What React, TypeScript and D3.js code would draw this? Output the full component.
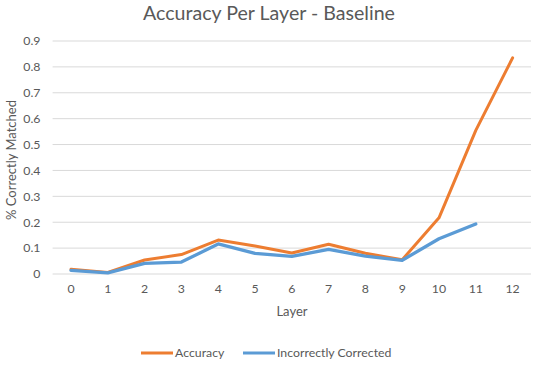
import React from 'react';
import { scaleLinear, scaleBand, line } from 'd3';

const layers = ['0', '1', '2', '3', '4', '5', '6', '7', '8', '9', '10', '11', '12'];
const accuracy = [0.018, 0.006, 0.054, 0.075, 0.131, 0.108, 0.081, 0.115, 0.08, 0.055, 0.217, 0.555, 0.835];
const incorrectlyCorrected = [0.014, 0.004, 0.041, 0.046, 0.116, 0.08, 0.068, 0.095, 0.069, 0.053, 0.136, 0.193];
const yTicks = [0, 0.1, 0.2, 0.3, 0.4, 0.5, 0.6, 0.7, 0.8, 0.9];

const font = 'Lato, "Open Sans", sans-serif';
const textColor = '#595959';

export default function App() {
  const width = 538,
    height = 366;

  const x = scaleBand().domain(layers).range([52.6, 531]);
  const y = scaleLinear().domain([0, 0.9]).range([274, 41]);

  const mkLine = line<number>()
    .x((d, i) => (x(layers[i]) as number) + x.bandwidth() / 2)
    .y((d) => y(d));

  const series = [
    { name: 'Accuracy', values: accuracy, color: '#ED7D31', legendX: 141, w: 3 },
    { name: 'Incorrectly Corrected', values: incorrectlyCorrected, color: '#5B9BD5', legendX: 243, w: 3.3 },
  ];

  return (
    <svg width={width} height={height} style={{ position: 'absolute', left: 0, top: 0, background: '#fff' }}>
      <text x={269} y={20} textAnchor="middle" fontFamily={font} fontSize={19.6} fill={textColor}>
        Accuracy Per Layer - Baseline
      </text>

      {/* grid + y ticks */}
      {yTicks.map((t) => (
        <g key={t}>
          <line x1={52.6} x2={531} y1={y(t)} y2={y(t)} stroke="#d9d9d9" strokeWidth={1} />
          <text x={40.5} y={y(t)} dy="0.35em" textAnchor="end" fontFamily={font} fontSize={12.3} fill={textColor}>
            {t === 0 ? '0' : t.toFixed(1)}
          </text>
        </g>
      ))}

      {/* x ticks */}
      {layers.map((l) => (
        <text key={l} x={(x(l) as number) + x.bandwidth() / 2} y={293} textAnchor="middle" fontFamily={font} fontSize={12.3} fill={textColor}>
          {l}
        </text>
      ))}

      <text x={292} y={316} textAnchor="middle" fontFamily={font} fontSize={13} fill={textColor}>
        Layer
      </text>
      <text transform="translate(16,160) rotate(-90)" textAnchor="middle" fontFamily={font} fontSize={13} fill={textColor}>
        % Correctly Matched
      </text>

      {series.map((s) => (
        <path key={s.name} d={mkLine(s.values) || ''} fill="none" stroke={s.color} strokeWidth={s.w} strokeLinejoin="round" strokeLinecap="round" />
      ))}

      {/* legend */}
      {series.map((s) => (
        <g key={s.name}>
          <line x1={s.legendX} x2={s.legendX + 32} y1={353} y2={353} stroke={s.color} strokeWidth={3} />
          <text x={s.legendX + 34} y={353} dy="0.35em" fontFamily={font} fontSize={12.3} fill={textColor}>
            {s.name}
          </text>
        </g>
      ))}
    </svg>
  );
}
